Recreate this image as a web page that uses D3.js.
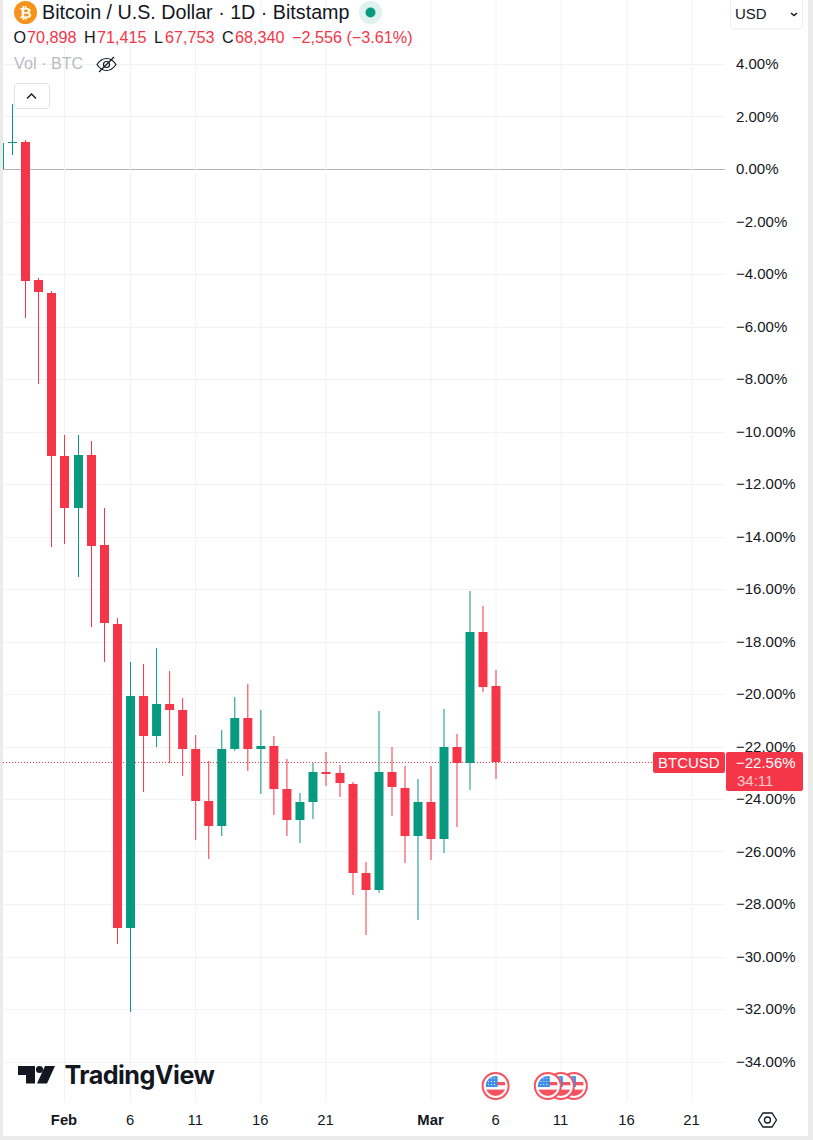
<!DOCTYPE html>
<html><head><meta charset="utf-8">
<script src="https://cdnjs.cloudflare.com/ajax/libs/d3/7.8.5/d3.min.js"></script>
<style>
html,body{margin:0;padding:0;background:#fff;overflow:hidden}
svg{display:block}
text{font-family:"Liberation Sans",Arial,sans-serif}
</style></head><body>
<svg id="c" width="813" height="1140"></svg>
<script>
const dates = ["Jan 27","Jan 28","Jan 29","Jan 30","Jan 31","Feb 1","Feb 2","Feb 3","Feb 4","Feb 5","Feb 6","Feb 7","Feb 8","Feb 9","Feb 10","Feb 11","Feb 12","Feb 13","Feb 14","Feb 15","Feb 16","Feb 17","Feb 18","Feb 19","Feb 20","Feb 21","Feb 22","Feb 23","Feb 24","Feb 25","Feb 26","Feb 27","Feb 28","Mar 1","Mar 2","Mar 3","Mar 4","Mar 5","Mar 6"];
const opens  = [0,1.00,1.04,-4.22,-4.69,-10.90,-12.89,-10.86,-14.31,-17.30,-28.90,-20.06,-21.59,-20.37,-20.58,-22.06,-24.05,-25.01,-22.08,-20.90,-22.07,-21.97,-23.59,-24.78,-24.10,-22.94,-23.00,-23.40,-26.79,-27.44,-22.96,-23.55,-25.39,-24.10,-25.50,-22.01,-22.61,-17.62,-19.66];
const closes = [1.00,1.04,-4.26,-4.69,-10.90,-12.89,-10.86,-14.31,-17.30,-28.90,-20.06,-21.59,-20.37,-20.60,-22.06,-24.05,-25.01,-22.08,-20.90,-22.08,-21.97,-23.59,-24.78,-24.10,-22.96,-23.00,-23.40,-26.79,-27.44,-22.96,-23.55,-25.39,-24.10,-25.50,-22.01,-22.61,-17.62,-19.70,-22.56];
const highs  = [1.00,2.49,1.12,-4.14,-4.64,-10.12,-10.12,-10.35,-12.90,-17.09,-18.77,-18.85,-18.24,-19.11,-20.14,-21.55,-22.54,-21.36,-20.10,-19.61,-20.60,-21.59,-22.46,-23.76,-22.60,-22.20,-22.69,-23.34,-26.39,-20.64,-22.01,-22.73,-23.23,-22.73,-20.56,-21.51,-16.06,-16.63,-19.07];
const lows   = [0,0.54,-5.65,-8.18,-14.38,-14.27,-15.52,-17.42,-18.76,-29.51,-32.10,-23.71,-22.00,-22.62,-23.10,-25.55,-26.26,-25.39,-22.15,-22.91,-23.79,-24.59,-25.39,-25.65,-24.74,-23.48,-23.90,-27.63,-29.16,-27.56,-24.62,-26.42,-28.59,-26.30,-26.03,-25.04,-23.63,-19.90,-23.21];
const yTicks = [4,2,0,-2,-4,-6,-8,-10,-12,-14,-16,-18,-20,-22,-24,-26,-28,-30,-32,-34];
const xLabelDays = [5,10,15,20,25,33,38,43,48,53];
const xLabels = ["Feb","6","11","16","21","Mar","6","11","16","21"];
const boldLabels = ["Feb","Mar"];
const eventDays = [38,42,43,44];
const legendO = "70,898", legendH = "71,415", legendL = "67,753", legendC = "68,340", legendChange = "−2,556 (−3.61%)";
const lastPct = -22.56;

const UP="#089981", RED="#f43648", GRID="#f1f2f3", INK="#131722", FLAG="#f7525f";
const svg=d3.select("#c");
const fmt=v=>(v<0?"−":"")+Math.abs(v).toFixed(2)+"%";
const x=d3.scaleLinear().domain([6,38]).range([78.0,495.6]);
const y=d3.scaleLinear().domain([0,-34]).range([169.5,1062]);
const defs=svg.append("defs");
defs.append("clipPath").attr("id","plot").append("rect").attr("x",3).attr("y",0).attr("width",722).attr("height",1102);
const px=i=>{const v=x(i);return Math.floor(v)+Math.max(0,Math.min(.5,(v-120)/400));};

svg.append("rect").attr("x",0).attr("y",0).attr("width",3).attr("height",1140).attr("fill","#ebebeb");
svg.append("rect").attr("x",808).attr("y",0).attr("width",5).attr("height",1140).attr("fill","#ebebeb");
svg.append("rect").attr("x",0).attr("y",1136).attr("width",813).attr("height",4).attr("fill","#ebebeb");

const g=svg.append("g");
g.selectAll(".h").data(yTicks).join("line").attr("x1",3).attr("x2",725)
 .attr("y1",d=>Math.floor(y(d))+.5).attr("y2",d=>Math.floor(y(d))+.5)
 .attr("stroke",d=>d===0?"#b2b5be":GRID);
g.selectAll(".v").data(xLabelDays).join("line").attr("y1",0).attr("y2",1102)
 .attr("x1",d=>px(d)+.5).attr("x2",d=>px(d)+.5).attr("stroke",GRID);

const yAxis=d3.axisRight(y).tickValues(yTicks).tickFormat(fmt).tickSize(0).tickPadding(0);
const ya=svg.append("g").attr("transform","translate(736,0)").call(yAxis);
ya.select(".domain").remove();
ya.selectAll("text").attr("font-size",15).attr("fill",INK).style("font-family",'"Liberation Sans",Arial,sans-serif').attr("dy",".27em");

const tg=svg.append("g");
tg.selectAll("text").data(xLabelDays).join("text")
 .attr("x",d=>px(d)).attr("y",1125).attr("text-anchor","middle")
 .attr("font-size",14.8).attr("fill",INK)
 .attr("font-weight",(d,i)=>boldLabels.includes(xLabels[i])?700:400)
 .text((d,i)=>xLabels[i]);

const idx=d3.range(dates.length);
const plot=svg.append("g").attr("clip-path","url(#plot)");
plot.append("line").attr("x1",3).attr("x2",725).attr("y1",Math.round(y(lastPct))+.5).attr("y2",Math.round(y(lastPct))+.5)
 .attr("stroke",RED).attr("stroke-dasharray","1 2");
const col=i=>closes[i]>=opens[i]?UP:RED;
plot.selectAll(".w").data(idx).join("rect").attr("class","w")
 .attr("x",i=>px(i)).attr("width",1)
 .attr("y",i=>Math.round(y(highs[i]))).attr("height",i=>Math.round(y(lows[i]))-Math.round(y(highs[i])))
 .attr("fill",col);
plot.selectAll(".b").data(idx).join("rect").attr("class","b")
 .attr("x",i=>px(i)-4).attr("width",9)
 .attr("y",i=>Math.round(Math.min(y(opens[i]),y(closes[i]))))
 .attr("height",i=>Math.max(1,Math.round(Math.abs(y(opens[i])-y(closes[i])))))
 .attr("fill",col);

svg.append("circle").attr("cx",25.5).attr("cy",12.5).attr("r",11.5).attr("fill","#f7931a");
svg.append("text").attr("x",25.5).attr("y",18).attr("text-anchor","middle").attr("font-size",15).attr("font-weight",700).attr("fill","#fff").text("₿");
svg.append("text").attr("x",42).attr("y",19).attr("font-size",19.7).attr("fill",INK).text("Bitcoin / U.S. Dollar · 1D · Bitstamp");
svg.append("circle").attr("cx",370.5).attr("cy",12.5).attr("r",11.5).attr("fill","#dff2ee");
svg.append("circle").attr("cx",370.5).attr("cy",12.5).attr("r",5).attr("fill",UP);
const row=[["O",13.5,INK],[legendO,27,RED],["H",84,INK],[legendH,97,RED],["L",154,INK],[legendL,165,RED],["C",222,INK],[legendC,235,RED],[legendChange,292,RED]];
svg.append("g").selectAll("text").data(row).join("text").attr("x",d=>d[1]).attr("y",43).attr("font-size",16.2).attr("fill",d=>d[2]).text(d=>d[0]);
svg.append("text").attr("x",14).attr("y",69).attr("font-size",16.2).attr("fill","#b8bbc2").text("Vol · BTC");
const eye=svg.append("g").attr("fill","none").attr("stroke",INK).attr("stroke-width",1.2);
eye.append("path").attr("d","M97 64.5C100 60 103 58.5 106.5 58.5S113 60 116 64.5C113 69 110 70.5 106.5 70.5S100 69 97 64.5Z");
eye.append("circle").attr("cx",106.5).attr("cy",64.5).attr("r",3);
eye.append("path").attr("d","M99 72L114 57");
svg.append("rect").attr("x",14.5).attr("y",83.5).attr("width",35).attr("height",25).attr("rx",2.5).attr("fill","#fff").attr("stroke","#e0e3eb");
svg.append("path").attr("d","M27 98.5L31.5 94L36 98.5").attr("fill","none").attr("stroke",INK).attr("stroke-width",1.4);

svg.append("rect").attr("x",730.5).attr("y",-6).attr("width",72).attr("height",35).attr("rx",4).attr("fill","#fff").attr("stroke","#eceef2");
svg.append("text").attr("x",735).attr("y",19).attr("font-size",15).attr("fill",INK).text("USD");
svg.append("path").attr("d","M791 13L794 15.5L797 13").attr("fill","none").attr("stroke",INK).attr("stroke-width",1.4);

svg.append("rect").attr("x",653).attr("y",752).attr("width",72).attr("height",21).attr("rx",2).attr("fill",RED);
svg.append("text").attr("x",658).attr("y",768).attr("font-size",15).attr("fill","#fff").text("BTCUSD");
svg.append("rect").attr("x",726).attr("y",752).attr("width",77).attr("height",39).attr("rx",2).attr("fill",RED);
svg.append("text").attr("x",736).attr("y",768).attr("font-size",15).attr("fill","#fff").text(fmt(lastPct));
svg.append("text").attr("x",737).attr("y",786).attr("font-size",15).attr("fill","#fcc").text("34:11");

svg.append("path").attr("fill",INK).attr("d","M18 1066H35V1083.5H26V1075H18Z");
svg.append("circle").attr("cx",39.5).attr("cy",1069.5).attr("r",3.6).attr("fill",INK);
svg.append("path").attr("fill",INK).attr("d","M45 1066H55L47 1083.5H37Z");
svg.append("text").attr("x",64.5).attr("y",1084).attr("font-size",25.2).attr("font-weight",700).attr("fill",INK).attr("letter-spacing",-0.55).style("font-family","Inter").text("TradingView");

const ev=svg.append("g");
[...eventDays].reverse().forEach(d=>{
  const f=ev.append("g").attr("transform",`translate(${x(d)},1086)`);
  f.append("circle").attr("r",13).attr("fill","#fff").attr("stroke",FLAG).attr("stroke-width",2);
  const id="fl"+d;
  defs.append("clipPath").attr("id",id).append("circle").attr("r",10);
  const c=f.append("g").attr("clip-path",`url(#${id})`);
  c.append("rect").attr("x",0).attr("y",-4).attr("width",10).attr("height",3.3).attr("fill",FLAG);
  c.append("rect").attr("x",-10).attr("y",3.6).attr("width",20).attr("height",7).attr("fill",FLAG);
  c.append("rect").attr("x",-10).attr("y",-10).attr("width",12).attr("height",11).attr("fill","#3d8fe8");
  d3.cross([-7,-4,-1],[-7.5,-4.5,-1.5]).forEach(p=>c.append("circle").attr("cx",p[0]).attr("cy",p[1]).attr("r",.6).attr("fill","#fff"));
});

svg.append("path").attr("d","M758.5 1120L763 1113H772L776.5 1120L772 1127H763Z").attr("fill","none").attr("stroke",INK).attr("stroke-width",1.3);
svg.append("circle").attr("cx",767.5).attr("cy",1120).attr("r",3).attr("fill","none").attr("stroke",INK).attr("stroke-width",1.3);
</script>
</body></html>
